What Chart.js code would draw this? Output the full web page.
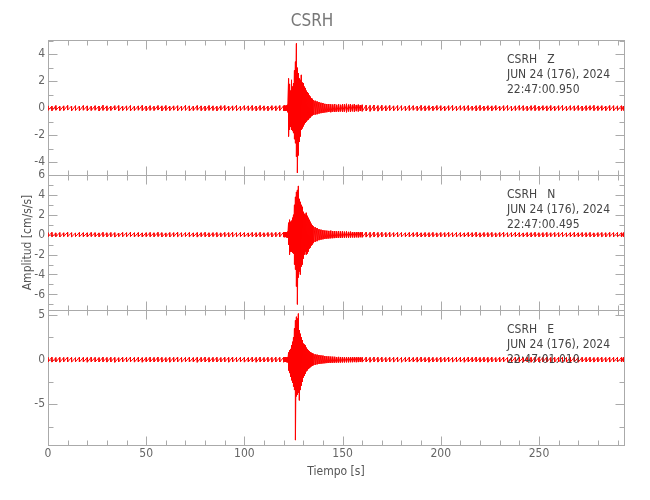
<!DOCTYPE html>
<html>
<head>
<meta charset="utf-8">
<script src="https://cdn.jsdelivr.net/npm/chart.js@4.4.1/dist/chart.umd.min.js"></script>
<style>
  html, body { margin: 0; padding: 0; background: #fff; }
</style>
</head>
<body>
<canvas id="sismo" width="650" height="500"></canvas>
<script>
// tiempos de muestra (s) - mas densos alrededor del evento
const tSec = [
  0,2,4,6,8,10,12,14,16,18,20,22,24,26,28,30,32,34,36,38,40,42,44,46,48,50,52,54,56,58,
  60,62,64,66,68,70,72,74,76,78,80,82,84,86,88,90,92,94,96,98,100,102,104,106,108,110,112,114,116,118,120,
  120.5,121,121.5,122,122.5,123,123.5,124,124.5,125,125.5,126,126.5,127,127.5,128,128.5,129,129.5,130,
  130.5,131,131.5,132,132.5,133,133.5,134,134.5,135,
  136,137,138,139,140,141,142,143,144,145,146,147,148,149,150,151,152,153,154,155,156,157,158,159,160,
  162,164,166,168,170,172,174,176,178,180,182,184,186,188,190,192,194,196,198,200,
  202,204,206,208,210,212,214,216,218,220,222,224,226,228,230,232,234,236,238,240,
  242,244,246,248,250,252,254,256,258,260,262,264,266,268,270,272,274,276,278,280,
  282,284,286,288,290,292,293
];

const zHi = [
  0.17,0.15,0.19,0.14,0.17,0.2,0.16,0.18,0.15,0.19,0.17,0.14,0.18,0.16,0.21,0.17,0.15,0.18,0.19,0.16,
  0.17,0.19,0.15,0.17,0.2,0.16,0.18,0.14,0.19,0.17,0.19,0.15,0.17,0.18,0.16,0.2,0.17,0.15,0.19,0.17,
  0.16,0.19,0.17,0.14,0.18,0.19,0.16,0.17,0.2,0.15,0.18,0.17,0.19,0.16,0.19,0.17,0.15,0.18,0.17,0.19,0.18,
  0.2,0.18,0.2,0.25,2.2,1.8,1.3,2.1,1.6,1.85,2.8,3.45,4.8,3.0,2.6,2.2,2.1,2.47,1.9,1.85,
  1.6,1.5,1.3,1.2,1.1,0.95,0.86,0.75,0.7,0.6,
  0.55,0.5,0.45,0.4,0.38,0.32,0.3,0.3,0.28,0.27,0.3,0.25,0.28,0.25,0.3,0.28,0.32,0.26,0.3,0.25,0.3,0.24,0.26,0.22,0.25,
  0.22,0.2,0.23,0.19,0.21,0.18,0.2,0.17,0.19,0.18,0.16,0.19,0.18,0.15,0.2,0.17,0.18,0.16,0.19,0.18,
  0.15,0.18,0.2,0.16,0.18,0.17,0.19,0.15,0.18,0.2,0.16,0.18,0.17,0.19,0.15,0.18,0.2,0.16,0.17,0.19,
  0.18,0.15,0.18,0.2,0.16,0.18,0.17,0.19,0.16,0.18,0.2,0.15,0.18,0.17,0.19,0.16,0.18,0.18,0.2,0.17,
  0.18,0.16,0.19,0.18,0.17,0.18,0.16
];
const zLo = [
  -0.16,-0.19,-0.15,-0.18,-0.17,-0.14,-0.2,-0.16,-0.18,-0.15,-0.19,-0.17,-0.15,-0.21,-0.16,-0.18,-0.17,-0.14,-0.19,-0.17,
  -0.16,-0.2,-0.17,-0.15,-0.18,-0.19,-0.16,-0.17,-0.14,-0.2,-0.17,-0.18,-0.15,-0.19,-0.17,-0.16,-0.21,-0.17,-0.15,-0.18,
  -0.19,-0.16,-0.17,-0.2,-0.15,-0.17,-0.18,-0.16,-0.19,-0.17,-0.15,-0.18,-0.17,-0.2,-0.16,-0.17,-0.19,-0.15,-0.18,-0.17,-0.19,
  -0.2,-0.2,-0.18,-0.3,-2.1,-1.6,-1.4,-1.6,-1.7,-1.85,-2.3,-2.6,-3.6,-4.8,-3.5,-2.5,-2.1,-1.6,-1.5,-1.35,
  -1.2,-1.1,-1.0,-0.9,-0.85,-0.75,-0.7,-0.6,-0.55,-0.5,
  -0.48,-0.45,-0.4,-0.37,-0.35,-0.32,-0.3,-0.28,-0.3,-0.26,-0.28,-0.25,-0.27,-0.24,-0.28,-0.25,-0.3,-0.24,-0.27,-0.23,-0.26,-0.22,-0.24,-0.21,-0.23,
  -0.21,-0.23,-0.19,-0.22,-0.18,-0.2,-0.17,-0.19,-0.18,-0.16,-0.19,-0.17,-0.15,-0.18,-0.17,-0.19,-0.16,-0.18,-0.15,-0.17,
  -0.19,-0.16,-0.17,-0.18,-0.15,-0.19,-0.17,-0.16,-0.2,-0.17,-0.18,-0.16,-0.19,-0.15,-0.17,-0.18,-0.16,-0.2,-0.17,-0.15,
  -0.17,-0.19,-0.16,-0.18,-0.17,-0.15,-0.19,-0.17,-0.18,-0.16,-0.17,-0.19,-0.15,-0.18,-0.16,-0.19,-0.17,-0.15,-0.18,-0.17,
  -0.16,-0.18,-0.17,-0.19,-0.16,-0.18,-0.17
];
const nHi = [
  0.2,0.23,0.18,0.21,0.19,0.24,0.2,0.17,0.22,0.2,0.19,0.22,0.2,0.18,0.23,0.19,0.21,0.2,0.17,0.22,
  0.2,0.24,0.19,0.21,0.18,0.2,0.22,0.19,0.23,0.2,0.18,0.21,0.2,0.24,0.19,0.2,0.22,0.18,0.21,0.2,
  0.23,0.19,0.2,0.21,0.18,0.22,0.2,0.24,0.19,0.21,0.2,0.18,0.22,0.2,0.23,0.19,0.21,0.2,0.22,0.24,0.25,
  0.25,0.27,0.24,0.3,1.2,1.5,1.3,1.4,1.7,2.0,3.0,3.8,4.3,4.5,4.9,3.6,3.3,3.0,2.8,2.3,
  2.1,2.0,2.2,1.9,1.7,1.5,1.3,1.1,0.95,0.85,
  0.75,0.67,0.55,0.5,0.45,0.42,0.4,0.38,0.4,0.35,0.36,0.33,0.35,0.32,0.33,0.3,0.32,0.28,0.3,0.26,0.27,0.25,0.27,0.24,0.26,
  0.25,0.23,0.26,0.22,0.24,0.21,0.23,0.2,0.22,0.21,0.19,0.22,0.2,0.23,0.19,0.21,0.2,0.22,0.18,0.21,
  0.2,0.23,0.19,0.21,0.2,0.18,0.22,0.2,0.24,0.19,0.21,0.2,0.22,0.18,0.21,0.23,0.19,0.2,0.22,0.2,
  0.18,0.21,0.2,0.23,0.19,0.2,0.22,0.19,0.21,0.2,0.23,0.18,0.2,0.22,0.19,0.21,0.2,0.22,0.18,0.2,
  0.21,0.19,0.22,0.2,0.21,0.19,0.2
];
const nLo = [
  -0.19,-0.21,-0.2,-0.23,-0.18,-0.2,-0.22,-0.19,-0.21,-0.2,-0.23,-0.18,-0.2,-0.21,-0.19,-0.22,-0.2,-0.24,-0.19,-0.2,
  -0.21,-0.18,-0.22,-0.2,-0.23,-0.19,-0.2,-0.21,-0.18,-0.22,-0.2,-0.23,-0.19,-0.2,-0.22,-0.18,-0.21,-0.2,-0.24,-0.19,
  -0.2,-0.22,-0.18,-0.21,-0.2,-0.19,-0.23,-0.2,-0.21,-0.18,-0.22,-0.2,-0.19,-0.23,-0.2,-0.21,-0.18,-0.22,-0.2,-0.21,-0.24,
  -0.25,-0.24,-0.27,-0.3,-1.0,-2.0,-1.7,-1.7,-1.8,-1.9,-3.0,-3.5,-5.2,-7.0,-4.3,-3.7,-4.0,-3.2,-3.0,-2.4,
  -2.0,-1.7,-2.0,-1.9,-1.7,-1.4,-1.3,-1.1,-1.0,-0.85,
  -0.72,-0.65,-0.55,-0.5,-0.46,-0.42,-0.4,-0.38,-0.36,-0.35,-0.34,-0.33,-0.32,-0.33,-0.3,-0.31,-0.29,-0.3,-0.28,-0.27,-0.28,-0.26,-0.27,-0.25,-0.26,
  -0.24,-0.26,-0.22,-0.25,-0.21,-0.23,-0.22,-0.2,-0.23,-0.21,-0.2,-0.22,-0.19,-0.21,-0.23,-0.2,-0.22,-0.19,-0.21,-0.2,
  -0.22,-0.19,-0.21,-0.23,-0.2,-0.21,-0.19,-0.22,-0.2,-0.24,-0.19,-0.21,-0.2,-0.22,-0.19,-0.2,-0.23,-0.21,-0.19,-0.22,
  -0.2,-0.21,-0.23,-0.19,-0.2,-0.22,-0.21,-0.19,-0.2,-0.22,-0.19,-0.21,-0.2,-0.23,-0.2,-0.19,-0.21,-0.2,-0.22,-0.19,
  -0.2,-0.22,-0.19,-0.21,-0.2,-0.22,-0.2
];
const eHi = [
  0.25,0.28,0.23,0.26,0.24,0.29,0.25,0.22,0.27,0.25,0.24,0.27,0.25,0.23,0.28,0.24,0.26,0.25,0.22,0.27,
  0.25,0.29,0.24,0.26,0.23,0.25,0.27,0.24,0.28,0.25,0.23,0.26,0.25,0.29,0.24,0.25,0.27,0.23,0.26,0.25,
  0.28,0.24,0.25,0.26,0.23,0.27,0.25,0.29,0.24,0.26,0.25,0.23,0.27,0.25,0.28,0.24,0.26,0.25,0.27,0.25,0.26,
  0.26,0.28,0.25,0.3,0.8,1.05,1.2,1.6,2.0,2.5,3.5,4.4,4.8,4.6,5.15,3.3,2.9,2.5,2.2,1.8,
  1.7,1.6,1.35,1.2,1.05,0.95,0.86,0.78,0.72,0.67,
  0.6,0.56,0.52,0.48,0.45,0.4,0.37,0.36,0.34,0.33,0.32,0.3,0.31,0.3,0.28,0.29,0.27,0.28,0.26,0.27,0.28,0.26,0.27,0.25,0.26,
  0.27,0.25,0.28,0.26,0.27,0.24,0.26,0.25,0.27,0.24,0.25,0.27,0.24,0.26,0.28,0.24,0.26,0.25,0.23,0.27,
  0.25,0.28,0.24,0.26,0.25,0.23,0.27,0.25,0.29,0.24,0.26,0.25,0.27,0.23,0.26,0.28,0.24,0.25,0.27,0.25,
  0.23,0.26,0.25,0.28,0.24,0.25,0.27,0.24,0.26,0.25,0.28,0.23,0.25,0.27,0.24,0.26,0.25,0.27,0.23,0.25,
  0.26,0.24,0.27,0.25,0.26,0.24,0.25
];
const eLo = [
  -0.24,-0.27,-0.25,-0.28,-0.23,-0.25,-0.27,-0.24,-0.26,-0.25,-0.28,-0.23,-0.25,-0.26,-0.24,-0.27,-0.25,-0.29,-0.24,-0.25,
  -0.26,-0.23,-0.27,-0.25,-0.28,-0.24,-0.25,-0.26,-0.23,-0.27,-0.25,-0.28,-0.24,-0.25,-0.27,-0.23,-0.26,-0.25,-0.29,-0.24,
  -0.25,-0.27,-0.23,-0.26,-0.25,-0.24,-0.28,-0.25,-0.26,-0.23,-0.27,-0.25,-0.24,-0.28,-0.25,-0.26,-0.23,-0.27,-0.25,-0.26,-0.28,
  -0.26,-0.25,-0.28,-0.3,-1.2,-1.5,-1.9,-2.3,-2.6,-3.0,-3.4,-9.0,-4.1,-3.9,-3.7,-4.55,-3.4,-2.9,-2.5,-2.0,
  -1.8,-1.57,-1.3,-1.2,-1.05,-0.95,-0.85,-0.75,-0.7,-0.63,
  -0.58,-0.52,-0.48,-0.45,-0.42,-0.4,-0.38,-0.36,-0.35,-0.34,-0.33,-0.32,-0.32,-0.31,-0.3,-0.3,-0.29,-0.29,-0.28,-0.28,-0.27,-0.28,-0.27,-0.26,-0.27,
  -0.26,-0.28,-0.24,-0.27,-0.25,-0.26,-0.24,-0.27,-0.25,-0.28,-0.24,-0.26,-0.25,-0.27,-0.23,-0.26,-0.28,-0.25,-0.24,-0.27,
  -0.25,-0.23,-0.27,-0.26,-0.24,-0.28,-0.25,-0.26,-0.24,-0.27,-0.25,-0.28,-0.24,-0.26,-0.25,-0.23,-0.27,-0.25,-0.26,-0.24,
  -0.27,-0.25,-0.28,-0.24,-0.26,-0.25,-0.27,-0.23,-0.26,-0.25,-0.24,-0.27,-0.25,-0.26,-0.28,-0.24,-0.26,-0.25,-0.27,-0.24,
  -0.26,-0.25,-0.27,-0.24,-0.26,-0.25,-0.26
];

const xTicks = [0, 50, 100, 150, 200, 250];
const yTicksZ = [-4, -2, 0, 2, 4];
const yTicksN = [-6, -4, -2, 0, 2, 4, 6];
const yTicksE = [-5, 0, 5];

const station = 'CSRH';
const fecha = 'JUN 24 (176), 2024';
const comps = ['Z', 'N', 'E'];
const horaInicio = ['22:47:00.950', '22:47:00.495', '22:47:01.010'];

const FONT = '"DejaVu Sans Condensed", "DejaVu Sans", sans-serif';
const GRIS = '#aaa';

// cada instante: maximo y luego minimo -> la linea hace zigzag como el sismograma
function traza(hi, lo) {
  const pts = [];
  tSec.forEach((t, i) => {
    pts.push({x: t, y: hi[i]});
    pts.push({x: t, y: lo[i]});
  });
  return pts;
}

const paneles = [
  {id: 'yZ', ticks: yTicksZ, min: -4.96, max: 5.06, paso: 2, menor: 1, w: 3},
  {id: 'yN', ticks: yTicksN, min: -7.57, max: 6, paso: 2, menor: 1, w: 2},
  {id: 'yE', ticks: yTicksE, min: -9.55, max: 5.56, paso: 5, menor: 2.5, w: 1}
];

function ejeY(p) {
  return {
    type: 'linear',
    position: 'left',
    stack: 'trazas',
    stackWeight: 1,
    weight: p.w,
    min: p.min,
    max: p.max,
    grid: {display: false, drawTicks: false},
    border: {display: false},
    ticks: {color: '#666', font: {family: FONT, size: 12}, padding: 3, autoSkip: false},
    afterBuildTicks: (s) => { s.ticks = p.ticks.map(v => ({value: v})); },
    afterFit: (s) => { s.width = 48; }
  };
}

const escalas = {
  x: {
    type: 'linear',
    min: 0,
    max: 293.3,
    grid: {display: false, drawTicks: false},
    border: {display: false},
    ticks: {color: '#666', font: {family: FONT, size: 12}, padding: 2, maxRotation: 0, autoSkip: false},
    afterBuildTicks: (s) => { s.ticks = xTicks.map(v => ({value: v})); },
    afterFit: (s) => { s.height = 55; },
    title: {display: true, text: 'Tiempo [s]', color: '#555', font: {family: FONT, size: 12}, padding: {top: 0, bottom: 21}}
  }
};
paneles.forEach(p => { escalas[p.id] = ejeY(p); });
escalas.yN.title = {display: true, text: 'Amplitud [cm/s/s]', color: '#555', font: {family: FONT, size: 12}, padding: {top: 21, bottom: 0}};

function linea(ctx, x1, y1, x2, y2) {
  ctx.beginPath();
  ctx.moveTo(x1, y1);
  ctx.lineTo(x2, y2);
  ctx.stroke();
}

// marco de cada panel con marcas hacia adentro (estilo SAC)
const marcoPlugin = {
  id: 'marco',
  beforeDatasetsDraw(chart) {
    const ctx = chart.ctx;
    const sx = chart.scales.x;
    const {left, right} = chart.chartArea;
    ctx.save();
    ctx.strokeStyle = GRIS;
    ctx.lineWidth = 1;
    paneles.forEach(p => {
      const s = chart.scales[p.id];
      const top = Math.round(s.top) + 0.5, bot = Math.round(s.bottom) + 0.5;
      const l = Math.round(left) + 0.5, r = Math.round(right) + 0.5;
      ctx.strokeRect(l, top, r - l, bot - top);
      for (let v = Math.ceil(p.min / p.menor) * p.menor; v <= p.max; v += p.menor) {
        const y = Math.round(s.getPixelForValue(v)) + 0.5;
        const mayor = Math.abs(v / p.paso - Math.round(v / p.paso)) < 1e-6;
        const len = mayor ? 9 : 5;
        linea(ctx, l, y, l + len, y);
        linea(ctx, r, y, r - len, y);
      }
      for (let t = 0; t <= sx.max; t += 10) {
        const x = Math.round(sx.getPixelForValue(t)) + 0.5;
        const len = t % 50 === 0 ? 9 : 5;
        linea(ctx, x, top, x, top + len);
        linea(ctx, x, bot, x, bot - len);
      }
    });
    ctx.restore();
  },
  afterDatasetsDraw(chart) {
    const ctx = chart.ctx;
    const {right} = chart.chartArea;
    ctx.save();
    ctx.fillStyle = '#444';
    ctx.font = '12px ' + FONT;
    ctx.textBaseline = 'middle';
    ctx.textAlign = 'left';
    paneles.forEach((p, k) => {
      const s = chart.scales[p.id];
      const x = right - 117;
      ctx.fillText(station + '   ' + comps[k], x, s.top + 19.5);
      ctx.fillText(fecha, x, s.top + 34.5);
      ctx.fillText(horaInicio[k], x, s.top + 49.5);
    });
    ctx.restore();
  }
};

const series = [[zHi, zLo], [nHi, nLo], [eHi, eLo]];

new Chart(document.getElementById('sismo'), {
  type: 'line',
  data: {
    datasets: series.map((s, k) => ({
      label: station + ' ' + comps[k],
      data: traza(s[0], s[1]),
      yAxisID: paneles[k].id,
      xAxisID: 'x',
      borderColor: '#ff0000',
      borderWidth: 1,
      pointRadius: 0,
      tension: 0,
      fill: false
    }))
  },
  options: {
    responsive: false,
    animation: false,
    events: [],
    layout: {padding: {left: 0, right: 26, top: 0, bottom: 0}},
    scales: escalas,
    plugins: {
      legend: {display: false},
      tooltip: {enabled: false},
      title: {
        display: true,
        text: station,
        color: '#777',
        font: {family: FONT, size: 17, weight: 'normal'},
        padding: {top: 11, bottom: 8.6}
      }
    }
  },
  plugins: [marcoPlugin]
});
</script>
</body>
</html>
